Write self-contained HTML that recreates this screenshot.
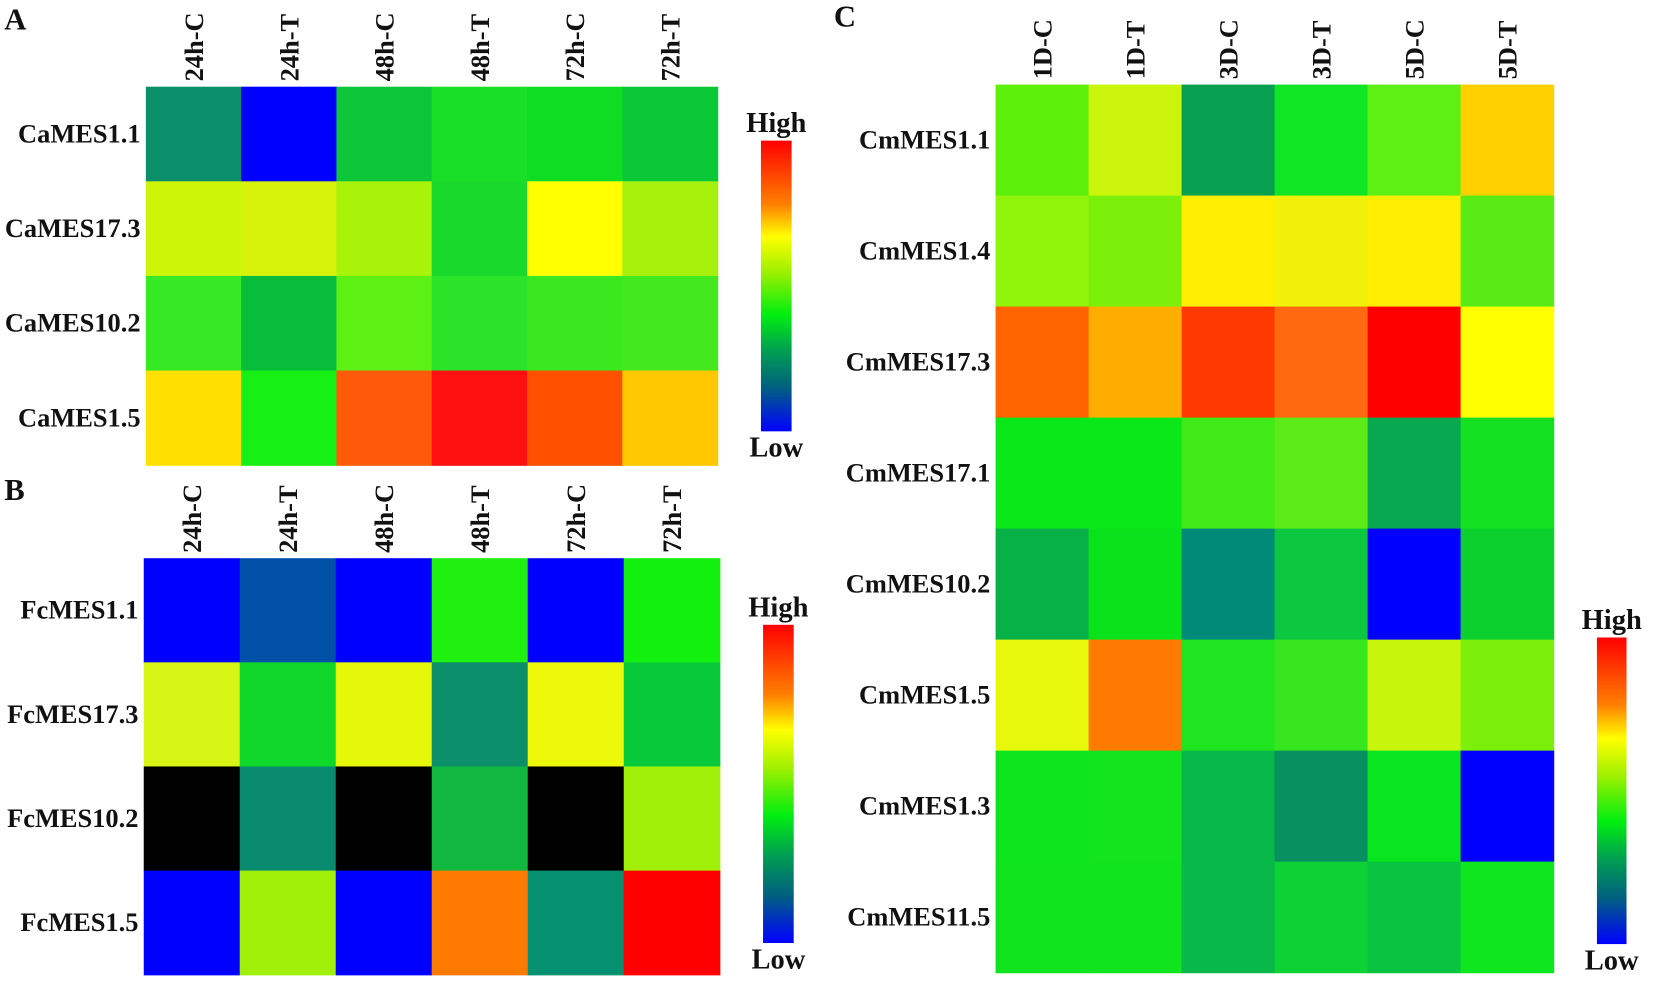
<!DOCTYPE html>
<html><head><meta charset="utf-8"><style>
html,body{margin:0;padding:0;background:#fff;}
svg{display:block;}
text{font-family:"Liberation Serif",serif;font-weight:bold;fill:#111;}
</style></head><body>
<svg id="fig" width="1654" height="998" viewBox="0 0 1565 944" preserveAspectRatio="none" xmlns="http://www.w3.org/2000/svg">
<defs>
<linearGradient id="cbar" x1="0" y1="0" x2="0" y2="1">
<stop offset="0" stop-color="#ff0000"/>
<stop offset="0.22" stop-color="#ff8000"/>
<stop offset="0.33" stop-color="#ffff00"/>
<stop offset="0.45" stop-color="#a0f000"/>
<stop offset="0.6" stop-color="#00ee10"/>
<stop offset="0.72" stop-color="#00a050"/>
<stop offset="0.85" stop-color="#006080"/>
<stop offset="1" stop-color="#0000ff"/>
</linearGradient>
</defs>
<text x="4" y="28" font-size="29">A</text>
<text x="4" y="473" font-size="29">B</text>
<text x="789" y="25" font-size="29">C</text>
</svg>
<script>
const colsA = ["24h-C","24h-T","48h-C","48h-T","72h-C","72h-T"];
const rowsA = ["CaMES1.1","CaMES17.3","CaMES10.2","CaMES1.5"];
const valsA = [
["#0a8f6a","#0000ff","#0ec63a","#19df26","#0fdd24","#0bc838"],
["#cdf508","#d7f20a","#a9f20a","#18d92c","#ffff00","#a6f00c"],
["#37e824","#08bd3c","#5cf014","#2be328","#3ae820","#43e81e"],
["#ffe000","#17f014","#ff5a0a","#ff1010","#ff5000","#ffc800"]];
const colsB = ["24h-C","24h-T","48h-C","48h-T","72h-C","72h-T"];
const rowsB = ["FcMES1.1","FcMES17.3","FcMES10.2","FcMES1.5"];
const valsB = [
["#0000ff","#0050a8","#0000ff","#20f010","#0000ff","#12f010"],
["#d6f514","#10d82a","#e6f80a","#0a8f6a","#eef80a","#08c93a"],
["#000000","#0a8a6e","#000000","#12b740","#000000","#a0f00a"],
["#0000ff","#a0f00a","#0000ff","#ff7a00","#059070","#ff0000"]];
const colsC = ["1D-C","1D-T","3D-C","3D-T","5D-C","5D-T"];
const rowsC = ["CmMES1.1","CmMES1.4","CmMES17.3","CmMES17.1","CmMES10.2","CmMES1.5","CmMES1.3","CmMES11.5"];
const valsC = [
["#5cf00a","#ccf50c","#07a050","#10e624","#5ef014","#ffcf00"],
["#90f50a","#7cf00a","#ffee00","#f0f00a","#ffee00","#58eb14"],
["#ff6400","#ffae00","#ff3a00","#ff6a10","#ff0000","#ffff00"],
["#0ae81a","#0ae81a","#40ea18","#5cea18","#08a850","#12e020"],
["#08b048","#0ae21c","#008a78","#0cc840","#0000ff","#0cd02e"],
["#e8f80a","#ff7a00","#20e420","#38e620","#c8f50c","#7cf00a"],
["#0ee41e","#12e41e","#08b848","#079060","#08e620","#0000ff"],
["#10e41e","#10e41e","#08b848","#0cd236","#08c440","#0ee620"]];

const NS="http://www.w3.org/2000/svg";
const svg=document.getElementById("fig");
function mk(tag,attrs){const e=document.createElementNS(NS,tag);for(const k in attrs)e.setAttribute(k,attrs[k]);svg.appendChild(e);return e;}

function heat(p,cols,rows,vals,x0,x1,y0,y1,fs){
  const cw=(x1-x0)/cols.length, rh=(y1-y0)/rows.length;
  const xs=i=>x0+i*cw, ys=j=>y0+j*rh;
  vals.forEach((row,j)=>row.forEach((c,i)=>{
    const r=mk("rect",{x:xs(i),y:ys(j),width:cw+0.6,height:rh+0.6,fill:c});
    
    
  }));
  cols.forEach((c,i)=>{
    const cx=xs(i)+cw/2+9, by=y0-5;
    const t=mk("text",{x:0,y:0,"font-size":fs,transform:`translate(${cx},${by}) rotate(-90)`});
    t.textContent=c;
    
    
  });
  rows.forEach((r,j)=>{
    const t=mk("text",{x:x0-5,y:ys(j)+rh/2+8,"font-size":fs,"text-anchor":"end"});
    t.textContent=r;
    
    
  });
}
function cbar(p,x,y0,y1,w){
  const r=mk("rect",{x:x,y:y0,width:w,height:y1-y0,fill:"url(#cbar)"});
  
  
  const h=mk("text",{x:x+w/2,y:y0-8,"font-size":27,"text-anchor":"middle"});
  h.textContent="High";
  
  
  const l=mk("text",{x:x+w/2,y:y1+24,"font-size":27,"text-anchor":"middle"});
  l.textContent="Low";
  
  
}
heat("a",colsA,rowsA,valsA,138,679,82,440,25);
heat("b",colsB,rowsB,valsB,136,681,528,922,25);
heat("c",colsC,rowsC,valsC,942,1470,80,920,25);
cbar("a",720,133,408,29);
cbar("b",722,591,892,29);
cbar("c",1511,603,893,28);
</script>
</body></html>
